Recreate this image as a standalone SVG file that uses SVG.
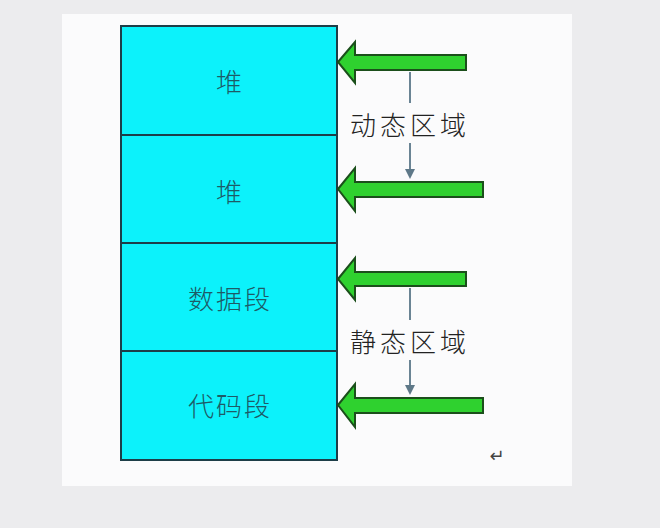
<svg xmlns="http://www.w3.org/2000/svg" width="660" height="528" viewBox="0 0 660 528">
<defs>
<style>
.seg{fill:#0cf2fb;stroke:#1d3e48;stroke-width:2}
.lbl{font-family:"Noto Sans CJK SC","Noto Sans CJK JP",sans-serif;font-size:26px;font-weight:300;fill:#1e5a66;text-anchor:middle;dominant-baseline:central;letter-spacing:2px}
.zone{font-family:"Noto Sans CJK SC","Noto Sans CJK JP",sans-serif;font-size:26px;font-weight:300;fill:#222;text-anchor:middle;dominant-baseline:central;letter-spacing:4px}
.big{fill:#2fd12f;stroke:#1b4f1b;stroke-width:2;stroke-linejoin:miter}
.thin{stroke:#6a8494;stroke-width:2;fill:none}
</style>
<marker id="ah" markerWidth="10" markerHeight="10" refX="8" refY="5" orient="auto" markerUnits="userSpaceOnUse">
<path d="M0,0 L10,5 L0,10 z" fill="#5e7888"/>
</marker>
</defs>
<rect x="0" y="0" width="660" height="528" fill="#ececee"/>
<rect x="62" y="14" width="510" height="472" fill="#fbfbfc"/>
<g id="heap1"><rect class="seg" x="121" y="26" width="216" height="109"/><text class="lbl" x="230" y="80">堆</text></g>
<g id="heap2"><rect class="seg" x="121" y="135" width="216" height="108"/><text class="lbl" x="230" y="190">堆</text></g>
<g id="data"><rect class="seg" x="121" y="243" width="216" height="108"/><text class="lbl" x="230" y="297">数据段</text></g>
<g id="code"><rect class="seg" x="121" y="351" width="216" height="109"/><text class="lbl" x="230" y="404">代码段</text></g>
<g id="connectors">
<path class="big" d="M338,62 L355,42 L355,55 L466,55 L466,70 L355,70 L355,83 Z"/>
<path class="big" d="M338,189 L355,168 L355,182 L483,182 L483,197 L355,197 L355,211 Z"/>
<path class="big" d="M338,279 L355,258 L355,272 L466,272 L466,286 L355,286 L355,300 Z"/>
<path class="big" d="M338,405 L355,384 L355,398 L483,398 L483,413 L355,413 L355,427 Z"/>
<line class="thin" x1="410" y1="72" x2="410" y2="103"/>
<line class="thin" x1="410" y1="143" x2="410" y2="177" marker-end="url(#ah)"/>
<line class="thin" x1="410" y1="288" x2="410" y2="320"/>
<line class="thin" x1="410" y1="360" x2="410" y2="393" marker-end="url(#ah)"/>
</g>
<g id="dynamic"><text class="zone" x="410" y="123">动态区域</text></g>
<g id="static"><text class="zone" x="410" y="340">静态区域</text></g>
<text x="497" y="455" font-family="DejaVu Sans,sans-serif" font-size="18" fill="#444" text-anchor="middle" dominant-baseline="central">↵</text>
</svg>
